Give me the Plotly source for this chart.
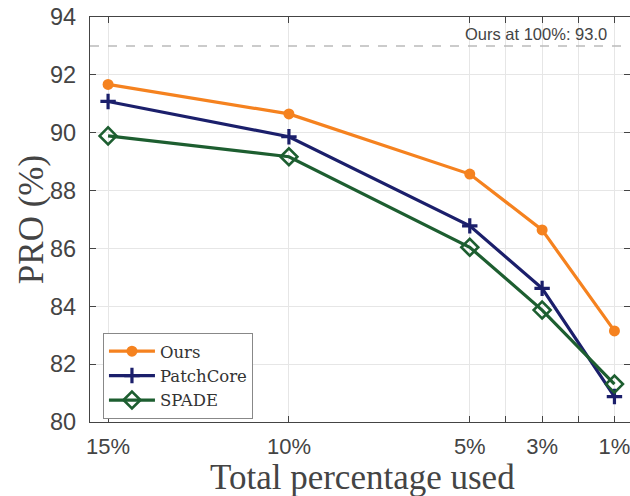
import plotly.graph_objects as go

pct = [15, 10, 5, 3, 1]
ours = [91.67, 90.65, 88.57, 86.64, 83.15]
patchcore = [91.08, 89.86, 86.78, 84.62, 80.88]
spade = [89.89, 89.17, 86.04, 83.87, 81.31]
ours_full = 93.0

tick_vals = [15, 10, 5, 4, 3, 2, 1]
tick_text = ["15%", "10%", "5%", "", "3%", "", "1%"]
y_ticks = [80, 82, 84, 86, 88, 90, 92, 94]

ORANGE = "#F5821F"
NAVY = "#1B1F6B"
GREEN = "#1D5E30"
AX = "#444444"
SERIF = "Liberation Serif, Times New Roman, serif"
SANS = "Liberation Sans, Arial, sans-serif"

fig = go.Figure()
fig.add_trace(go.Scatter(x=pct, y=ours, name="Ours", mode="lines+markers",
                         line=dict(color=ORANGE, width=3.2),
                         marker=dict(symbol="circle", size=11, color=ORANGE)))
fig.add_trace(go.Scatter(x=pct, y=patchcore, name="PatchCore", mode="lines+markers",
                         line=dict(color=NAVY, width=3.2),
                         marker=dict(symbol="cross-thin", size=11, color=NAVY,
                                     line=dict(color=NAVY, width=3.2))))
fig.add_trace(go.Scatter(x=pct, y=spade, name="SPADE", mode="lines+markers",
                         line=dict(color=GREEN, width=3.2),
                         marker=dict(symbol="diamond-open", size=13, color=GREEN,
                                     line=dict(color=GREEN, width=2.6))))

fig.add_shape(type="line", xref="paper", x0=0, x1=1, yref="y", y0=ours_full, y1=ours_full,
              line=dict(color="#BBBBBB", width=1.5, dash="dash"))
fig.add_annotation(xref="paper", x=0.961, yref="y", y=ours_full, text=f"Ours at 100%: {ours_full:.1f}",
                   showarrow=False, xanchor="right", yanchor="bottom", yshift=1,
                   font=dict(family=SANS, size=16.5, color=AX))

# axis titles
fig.add_annotation(xref="paper", x=0.504, yref="paper", y=-0.138, yanchor="middle",
                   text="Total percentage used", showarrow=False,
                   font=dict(family=SERIF, size=35, color=AX))
fig.add_annotation(xref="paper", x=-0.108, xanchor="center", yref="paper", y=0.5, yanchor="middle",
                   text="PRO (%)", showarrow=False, textangle=-90,
                   font=dict(family=SERIF, size=35, color=AX))

fig.update_layout(
    width=630, height=496,
    margin=dict(l=90, r=0, t=17, b=74),
    paper_bgcolor="white", plot_bgcolor="white",
    showlegend=True,
    legend=dict(x=0.024, y=0.22, xanchor="left", yanchor="top",
                bgcolor="white", bordercolor="#888888", borderwidth=1,
                font=dict(family="DejaVu Serif, serif", size=16.5, color="#333"),
                tracegroupgap=0, itemwidth=46),
    xaxis=dict(range=[15.5, 0.57], tickmode="array", tickvals=tick_vals, ticktext=tick_text,
               automargin=False, ticklabeloverflow="allow",
               showgrid=True, gridcolor="#E6E6E6", gridwidth=1,
               showline=True, linecolor=AX, linewidth=1.2, mirror="ticks",
               ticks="inside", ticklen=6, tickcolor=AX, zeroline=False,
               ticklabelstandoff=4,
               tickfont=dict(family=SANS, size=22, color=AX)),
    yaxis=dict(range=[80, 94], tickmode="array", tickvals=y_ticks,
               automargin=False, ticklabeloverflow="allow",
               showgrid=True, gridcolor="#E6E6E6", gridwidth=1,
               showline=True, linecolor=AX, linewidth=1.2, mirror="ticks",
               ticks="inside", ticklen=6, tickcolor=AX, zeroline=False,
               ticklabelstandoff=8,
               tickfont=dict(family=SANS, size=23.5, color=AX)),
)

fig.write_html("out.html", config={"displayModeBar": False},
               post_script="document.body.style.margin='0';")
